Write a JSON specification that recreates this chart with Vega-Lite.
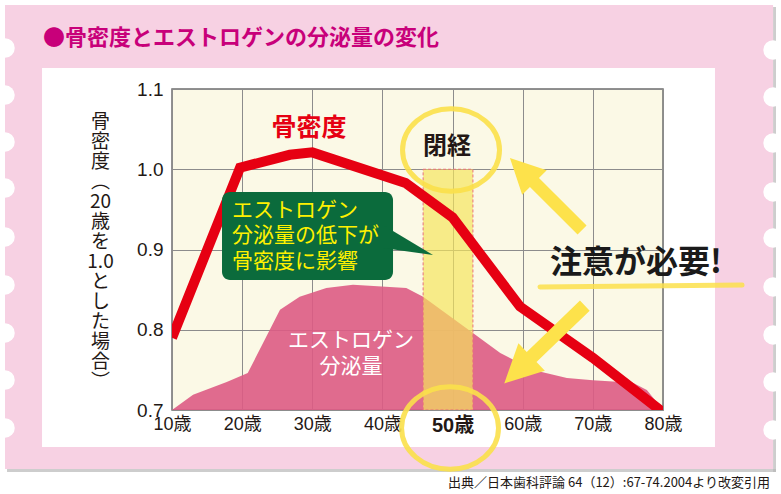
{
"$schema":"https://vega.github.io/schema/vega-lite/v6.json",
"width":491,"height":321,
"autosize":{"type":"none"},
"padding":{"left":172,"top":89,"right":118,"bottom":84},
"background":"#ffffff",
"config":{"view":{"fill":"#fbf9e6","stroke":"#6e6e6e","strokeWidth":1.5},"text":{"font":"Noto Sans CJK JP"}},
"datasets":{
"bone":[{"age":10,"value":0.79},{"age":19.7,"value":1.002},{"age":26.8,"value":1.018},{"age":30,"value":1.021},{"age":43.3,"value":0.983},{"age":50,"value":0.94},{"age":59.6,"value":0.829},{"age":70,"value":0.765},{"age":80,"value":0.697}],
"estrogen":[{"age":10,"value":0.7},{"age":13,"value":0.719},{"age":17.8,"value":0.735},{"age":20.8,"value":0.746},{"age":25.4,"value":0.825},{"age":28.2,"value":0.841},{"age":32,"value":0.852},{"age":35.8,"value":0.856},{"age":43.4,"value":0.852},{"age":45.8,"value":0.841},{"age":52.9,"value":0.796},{"age":56.8,"value":0.771},{"age":61.5,"value":0.75},{"age":66.3,"value":0.74},{"age":70,"value":0.737},{"age":75.7,"value":0.734},{"age":77.7,"value":0.725},{"age":80,"value":0.7}],
"shadow":[{"age":-13.52,"age2":96.11,"value":0.6227,"value2":0.6265},{"age":95.69,"age2":96.11,"value":0.6227,"value2":1.2022}],
"frame":[{"age":-13.81,"age2":95.69,"value":1.1262,"value2":1.2047},{"age":-13.81,"age2":95.69,"value":0.6265,"value2":0.6539},{"age":-13.81,"age2":-8.53,"value":0.6539,"value2":1.1262},{"age":87.41,"age2":95.69,"value":0.6539,"value2":1.1262}],
"notches":[{"age":-13.81,"value":1.1511},{"age":-13.81,"value":1.0925},{"age":-13.81,"value":1.034},{"age":-13.81,"value":0.9766},{"age":-13.81,"value":0.9156},{"age":-13.81,"value":0.8558},{"age":-13.81,"value":0.796},{"age":-13.81,"value":0.7374},{"age":-13.81,"value":0.6776},{"age":95.69,"value":1.1486},{"age":95.69,"value":1.09},{"age":95.69,"value":1.0327},{"age":95.69,"value":0.9717},{"age":95.69,"value":0.9143},{"age":95.69,"value":0.8533},{"age":95.69,"value":0.7935},{"age":95.69,"value":0.7349},{"age":95.69,"value":0.6751}]
},
"encoding":{
"x":{"field":"age","type":"quantitative","scale":{"domain":[10,80],"nice":false,"zero":false},
"axis":{"values":[10,20,30,40,50,60,70,80],"labelExpr":"datum.value + '歳'","title":null,"domain":false,"ticks":false,"labelPadding":5,"labelFont":"Liberation Sans, Noto Sans CJK JP","labelFontSize":{"condition":{"test":"datum.value == 50","value":20},"value":18},"labelFontWeight":{"condition":{"test":"datum.value == 50","value":"bold"},"value":"normal"},"labelColor":"#231815","labelOverlap":false,"labelBound":false,"labelFlush":false,"grid":true,"gridColor":"#8c8c8c","gridWidth":1,"gridOpacity":1}},
"y":{"field":"value","type":"quantitative","scale":{"domain":[0.7,1.1],"nice":false,"zero":false},
"axis":{"values":[0.7,0.8,0.9,1.0,1.1],"format":".1f","domain":false,"ticks":false,"labelPadding":9,"labelFont":"Liberation Sans","labelFontSize":19,"labelColor":"#231815","labelOverlap":false,"labelBound":false,"labelFlush":false,"grid":true,"gridColor":"#8c8c8c","gridWidth":1,"gridOpacity":1,
"title":["骨","密","度","︵","20","歳","を","1.0","と","し","た","場","合","︶"],"titleAngle":0,"titleAlign":"center","titleBaseline":"top","titleX":-72,"titleY":23,"titleFont":"Noto Sans CJK JP","titleFontSize":19,"titleFontWeight":"normal","titleColor":"#231815","titleLineHeight":20}}
},
"layer":[
{"data":{"name":"shadow"},"mark":{"type":"rect","fill":"#b8b8b8","opacity":0.7,"clip":false},"encoding":{"x2":{"field":"age2"},"y2":{"field":"value2"}}},
{"data":{"name":"frame"},"mark":{"type":"rect","fill":"#f7d1e3","clip":false},"encoding":{"x2":{"field":"age2"},"y2":{"field":"value2"}}},
{"data":{"name":"notches"},"mark":{"type":"point","shape":"circle","filled":true,"fill":"#ffffff","size":380,"opacity":1,"strokeWidth":0,"clip":false}},
{"data":{"values":[{"age":-8.39,"value":1.1636,"label":"●骨密度とエストロゲンの分泌量の変化"}]},"mark":{"type":"text","align":"left","baseline":"middle","fontSize":22,"fontWeight":"bold","fill":"#c8007a","clip":false},"encoding":{"text":{"field":"label"}}},
{"data":{"name":"estrogen"},"mark":{"type":"area","color":"#dd5b84","opacity":0.9,"clip":true}},
{"data":{"values":[{"age":45.8,"age2":52.9,"value":0.7,"value2":1.0}]},"mark":{"type":"rect","fill":"#f5e45c","fillOpacity":0.68,"stroke":"#e9707c","strokeWidth":1,"strokeDash":[3,2],"clip":true},"encoding":{"x2":{"field":"age2"},"y2":{"field":"value2"}}},
{"data":{"name":"bone"},"mark":{"type":"line","color":"#e60012","strokeWidth":10,"strokeJoin":"miter","clip":true}},
{"data":{"values":[{"age":17.13,"age2":41.51,"value":0.862,"value2":0.9717}]},"mark":{"type":"rect","fill":"#0b6b3c","cornerRadius":8,"clip":false},"encoding":{"x2":{"field":"age2"},"y2":{"field":"value2"}}},
{"data":{"values":[{"age":47.21,"value":0.8931}]},"mark":{"type":"point","shape":"M-1,-0.6L-1,-0.14L0,0Z","filled":true,"fill":"#0b6b3c","size":10000,"opacity":1,"strokeWidth":0,"clip":false}},
{"data":{"values":[{"age":18.55,"value":0.948,"label":"エストロゲン"},{"age":18.55,"value":0.9168,"label":"分泌量の低下が"},{"age":18.55,"value":0.8844,"label":"骨密度に影響"}]},"mark":{"type":"text","align":"left","baseline":"middle","fontSize":21,"fill":"#fff100","clip":false},"encoding":{"text":{"field":"label"}}},
{"data":{"values":[{"age":29.53,"value":1.0514,"label":"骨密度"}]},"mark":{"type":"text","align":"center","baseline":"middle","fontSize":25,"fontWeight":"bold","fill":"#e60012","clip":false},"encoding":{"text":{"field":"label"}}},
{"data":{"values":[{"age":49.21,"value":1.0277,"label":"閉経"}]},"mark":{"type":"text","align":"center","baseline":"middle","fontSize":24,"fontWeight":"bold","fill":"#231815","clip":false},"encoding":{"text":{"field":"label"}}},
{"data":{"values":[{"age":35.52,"value":0.786,"label":"エストロゲン"},{"age":35.52,"value":0.7536,"label":"分泌量"}]},"mark":{"type":"text","align":"center","baseline":"middle","fontSize":21,"fill":"#ffffff","clip":false},"encoding":{"text":{"field":"label"}}},
{"data":{"values":[{"age":49.78,"value":1.024},{"age":49.64,"value":0.6776}]},"mark":{"type":"point","shape":"M-1,0C-1,-0.469,-0.552,-0.85,0,-0.85C0.552,-0.85,1,-0.469,1,0C1,0.469,0.552,0.85,0,0.85C-0.552,0.85,-1,0.469,-1,0Z","filled":false,"stroke":"#fbe14b","strokeWidth":5,"size":9400,"opacity":0.9,"clip":false}},
{"data":{"values":[{"age":63.32,"value":0.9692}]},"mark":{"type":"point","shape":"M0,-1L0.34,-0.32L0.125,-0.32L0.125,1L-0.125,1L-0.125,-0.32L-0.34,-0.32Z","filled":true,"fill":"#fde24b","size":10404,"angle":315,"opacity":1,"strokeWidth":0,"clip":false}},
{"data":{"values":[{"age":63.11,"value":0.7816}]},"mark":{"type":"point","shape":"M0,-1L0.34,-0.32L0.125,-0.32L0.125,1L-0.125,1L-0.125,-0.32L-0.34,-0.32Z","filled":true,"fill":"#fde24b","size":12544,"angle":226,"opacity":1,"strokeWidth":0,"clip":false}},
{"data":{"values":[{"age":76.15,"value":0.8832,"label":"注意が必要!"}]},"mark":{"type":"text","align":"center","baseline":"middle","fontSize":32,"fontWeight":"bold","fill":"#1a1a1a","clip":false},"encoding":{"text":{"field":"label"}}},
{"data":{"values":[{"age":62.47,"age2":91.27,"value":0.8533,"value2":0.8558}]},"mark":{"type":"rule","stroke":"#fbe14b","strokeWidth":5,"strokeCap":"round","opacity":0.85,"clip":false},"encoding":{"x2":{"field":"age2"},"y2":{"field":"value2"}}},
{"data":{"values":[{"age":95.26,"value":0.609,"label":"出典／日本歯科評論 64（12）:67-74.2004より改変引用"}]},"mark":{"type":"text","align":"right","baseline":"middle","fontSize":13,"fill":"#231815","clip":false},"encoding":{"text":{"field":"label"}}}
]
}
